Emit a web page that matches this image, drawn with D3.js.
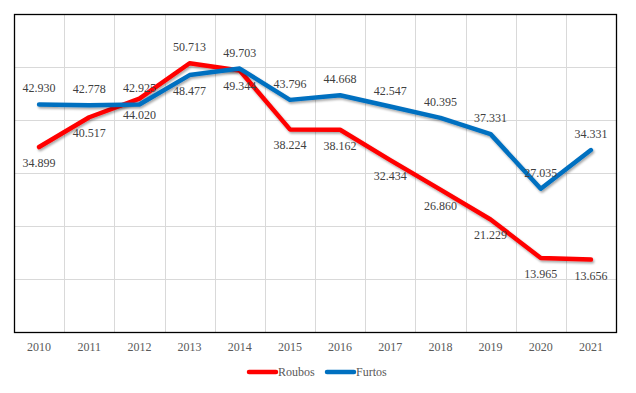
<!DOCTYPE html>
<html>
<head>
<meta charset="utf-8">
<script src="https://cdn.jsdelivr.net/npm/d3@7"></script>
<style>
  body { margin: 0; background: #fff; }
  text { font-family: "Liberation Serif", "Times New Roman", serif; }
</style>
</head>
<body>
<script>
// data
var years = ["2010","2011","2012","2013","2014","2015","2016","2017","2018","2019","2020","2021"];
var roubos = [34.899, 40.517, 44.020, 50.713, 49.344, 38.224, 38.162, 32.434, 26.860, 21.229, 13.965, 13.656];
var furtos = [42.930, 42.778, 42.925, 48.477, 49.703, 43.796, 44.668, 42.547, 40.395, 37.331, 27.035, 34.331];
var yTicks = [0, 10, 20, 30, 40, 50, 60];

// which side the value label sits on (1 = above, -1 = below)
var roubosSide = [-1,-1,-1, 1,-1,-1,-1,-1,-1,-1,-1,-1];
var furtosSide = [ 1, 1, 1,-1, 1, 1, 1, 1, 1, 1, 1, 1];

var series = [
  {name: "Roubos", values: roubos, side: roubosSide, color: "#ff0000"},
  {name: "Furtos", values: furtos, side: furtosSide, color: "#0070c0"}
];

var W = 636, H = 393;
// plot box (note: "top" is taken by window.top, so use other names)
var pLeft = 14, pRight = 616, pTop = 14, pBottom = 332;

var svg = d3.select("body").append("svg").attr("width", W).attr("height", H);

var defs = svg.append("defs");
defs.append("filter").attr("id", "shadow")
  .attr("x", "-5%").attr("y", "-5%").attr("width", "110%").attr("height", "120%")
  .append("feDropShadow")
  .attr("dx", 1.2).attr("dy", 1.8).attr("stdDeviation", 1.2)
  .attr("flood-color", "#000").attr("flood-opacity", 0.35);

var x = d3.scaleBand().domain(years).range([pLeft, pRight]);
var y = d3.scaleLinear().domain([0, 60]).range([pBottom, pTop]);
var cx = function(i){ return x(years[i]) + x.bandwidth()/2; };

// gridlines
svg.append("g").selectAll("line").data(yTicks.slice(1, -1)).enter()
  .append("line")
  .attr("x1", pLeft).attr("x2", pRight)
  .attr("y1", function(d){ return Math.round(y(d)) + 0.5; })
  .attr("y2", function(d){ return Math.round(y(d)) + 0.5; })
  .style("stroke", "#d9d9d9").style("stroke-width", 1);

svg.append("g").selectAll("line").data(years.slice(1)).enter()
  .append("line")
  .attr("x1", function(d){ return Math.round(x(d)) + 0.5; })
  .attr("x2", function(d){ return Math.round(x(d)) + 0.5; })
  .attr("y1", pTop).attr("y2", pBottom)
  .style("stroke", "#d9d9d9").style("stroke-width", 1);

// plot border
svg.append("rect")
  .attr("x", pLeft + 0.5).attr("y", pTop + 0.5)
  .attr("width", pRight - pLeft).attr("height", pBottom - pTop)
  .style("fill", "none").style("stroke", "#000").style("stroke-width", 1.3);

// x axis labels
svg.append("g").selectAll("text").data(years).enter()
  .append("text")
  .attr("x", function(d){ return x(d) + x.bandwidth()/2; })
  .attr("y", 351)
  .attr("text-anchor", "middle")
  .style("font-size", "12px").style("fill", "#595959")
  .text(function(d){ return d; });

// lines
var line = d3.line()
  .x(function(d, i){ return cx(i); })
  .y(function(d){ return y(d); });

series.forEach(function(s){
  svg.append("path")
    .datum(s.values)
    .attr("d", line)
    .attr("filter", "url(#shadow)")
    .style("fill", "none")
    .style("stroke", s.color)
    .style("stroke-width", 4.5)
    .style("stroke-linejoin", "round")
    .style("stroke-linecap", "round");
});

// value labels
series.forEach(function(s){
  svg.append("g").selectAll("text").data(s.values).enter()
    .append("text")
    .attr("x", function(d, i){ return cx(i); })
    .attr("y", function(d, i){ return y(d) - s.side[i]*16 + 4; })
    .attr("text-anchor", "middle")
    .style("font-size", "12px").style("fill", "#404040")
    .text(function(d){ return d3.format(".3f")(d); });
});

// legend
var legend = svg.append("g").selectAll("g").data(series).enter()
  .append("g")
  .attr("transform", function(d, i){ return "translate(" + (249 + i*78) + ",372)"; });
legend.append("line")
  .attr("x1", 0).attr("x2", 27).attr("y1", 0).attr("y2", 0)
  .style("stroke", function(d){ return d.color; })
  .style("stroke-width", 4.5).style("stroke-linecap", "round");
legend.append("text")
  .attr("x", 29).attr("y", 4)
  .style("font-size", "12px").style("fill", "#595959")
  .text(function(d){ return d.name; });
</script>
</body>
</html>
